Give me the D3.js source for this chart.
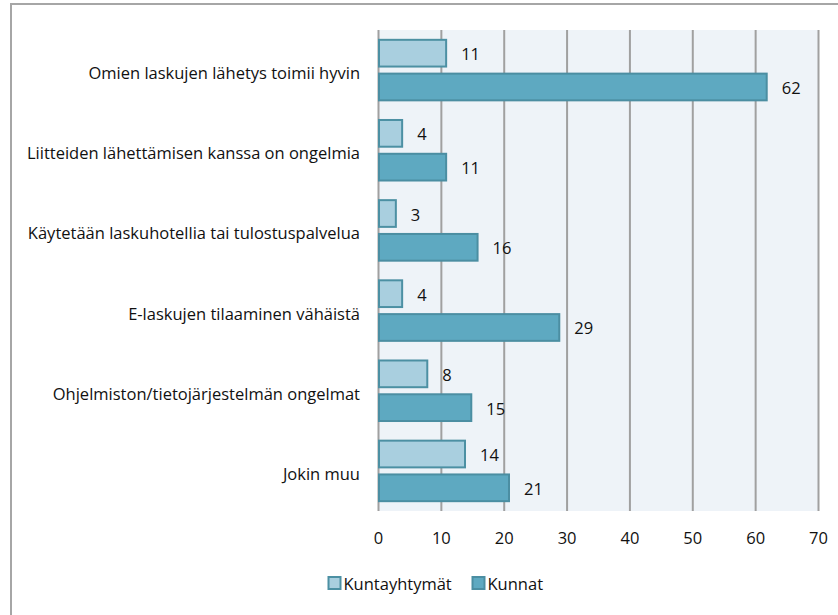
<!DOCTYPE html>
<html>
<head>
<meta charset="utf-8">
<script src="https://cdn.jsdelivr.net/npm/d3@7"></script>
<style>
  body { margin: 0; background: #fff; }
  svg { display: block; font-family: "Open Sans", sans-serif; }
</style>
</head>
<body>
<svg id="chart" width="838" height="615"></svg>
<script>
const categories = [
  "Omien laskujen lähetys toimii hyvin",
  "Liitteiden lähettämisen kanssa on ongelmia",
  "Käytetään laskuhotellia tai tulostuspalvelua",
  "E-laskujen tilaaminen vähäistä",
  "Ohjelmiston/tietojärjestelmän ongelmat",
  "Jokin muu"
]
const seriesNames = ["Kuntayhtymät", "Kunnat"]
const kuntayhtymat = [11, 4, 3, 4, 8, 14]
const kunnat = [62, 11, 16, 29, 15, 21]
const xTicks = [0, 10, 20, 30, 40, 50, 60, 70]

const FILLS = { "Kuntayhtymät": "#a9cfdf", "Kunnat": "#5ea9c1" }
const STROKES = { "Kuntayhtymät": "#4c90a3", "Kunnat": "#4b8ea2" }
const FONT_SIZE = '16.5px'
const TEXT_COLOR = '#111'

const PLOT = { left: 378, right: 818, top: 30, bottom: 511 }

const rows = categories.map((c, i) => ({
  cat: c,
  values: [
    { s: seriesNames[0], v: kuntayhtymat[i] },
    { s: seriesNames[1], v: kunnat[i] }
  ]
}))

const svg = d3.select('svg#chart')

// outer frame (runs off the right and bottom edges)
svg.append('rect')
  .attr('x', 11).attr('y', 4)
  .attr('width', 840).attr('height', 620)
  .attr('fill', '#fff')
  .attr('stroke', '#a6a6a6')
  .attr('stroke-width', 2)

const x = d3.scaleLinear().domain([0, 70]).range([PLOT.left, PLOT.right])

const y0 = d3.scaleBand()
  .domain(categories)
  .range([PLOT.top, PLOT.bottom])
  .paddingInner(0.22)
  .paddingOuter(0.11)

const y1 = d3.scaleBand()
  .domain(seriesNames)
  .range([0, y0.bandwidth()])
  .paddingInner(0.15)

// plot background
svg.append('rect')
  .attr('x', PLOT.left).attr('y', PLOT.top)
  .attr('width', PLOT.right - PLOT.left)
  .attr('height', PLOT.bottom - PLOT.top)
  .attr('fill', '#eef3f8')

// gridlines + tick labels
const xAxis = svg.append('g')
  .attr('transform', `translate(0,${PLOT.bottom})`)
  .call(d3.axisBottom(x).tickValues(xTicks).tickSize(-(PLOT.bottom - PLOT.top)).tickPadding(0))

xAxis.select('.domain').remove()
xAxis.selectAll('line')
  .attr('stroke', '#a0a0a0')
  .attr('stroke-width', 2)
xAxis.selectAll('text')
  .attr('y', 33)
  .attr('dy', 0)
  .attr('font-size', FONT_SIZE)
  .attr('font-family', '"Open Sans", sans-serif')
  .attr('fill', TEXT_COLOR)

// category labels
svg.append('g')
  .selectAll('text')
  .data(categories)
  .enter()
  .append('text')
  .attr('x', 360)
  .attr('y', d => y0(d) + y0.bandwidth() / 2 + 9)
  .attr('text-anchor', 'end')
  .attr('font-size', FONT_SIZE)
  .attr('fill', TEXT_COLOR)
  .text(d => d)

// bars
const groups = svg.append('g')
  .selectAll('g')
  .data(rows)
  .enter()
  .append('g')
  .attr('transform', d => `translate(0,${y0(d.cat)})`)

groups.selectAll('rect')
  .data(d => d.values)
  .enter()
  .append('rect')
  .attr('x', x(0) + 1)
  .attr('y', d => y1(d.s) + 1)
  .attr('width', d => x(d.v) - x(0) - 2)
  .attr('height', y1.bandwidth() - 2)
  .attr('fill', d => FILLS[d.s])
  .attr('stroke', d => STROKES[d.s])
  .attr('stroke-width', 2)

groups.selectAll('text')
  .data(d => d.values)
  .enter()
  .append('text')
  .attr('x', d => x(d.v) + 14)
  .attr('y', d => y1(d.s) + y1.bandwidth() / 2 + 7)
  .attr('font-size', FONT_SIZE)
  .attr('fill', TEXT_COLOR)
  .text(d => d.v)

// legend
const legendX = [328, 472]
const legend = svg.append('g')
  .selectAll('g')
  .data(seriesNames)
  .enter()
  .append('g')
  .attr('transform', (d, i) => `translate(${legendX[i]},577)`)

legend.append('rect')
  .attr('x', 0.5).attr('y', 0)
  .attr('width', 12).attr('height', 12)
  .attr('fill', d => FILLS[d])
  .attr('stroke', d => STROKES[d])
  .attr('stroke-width', 2)

legend.append('text')
  .attr('x', 15.5)
  .attr('y', 13)
  .attr('font-size', FONT_SIZE)
  .attr('fill', TEXT_COLOR)
  .text(d => d)
</script>
</body>
</html>
